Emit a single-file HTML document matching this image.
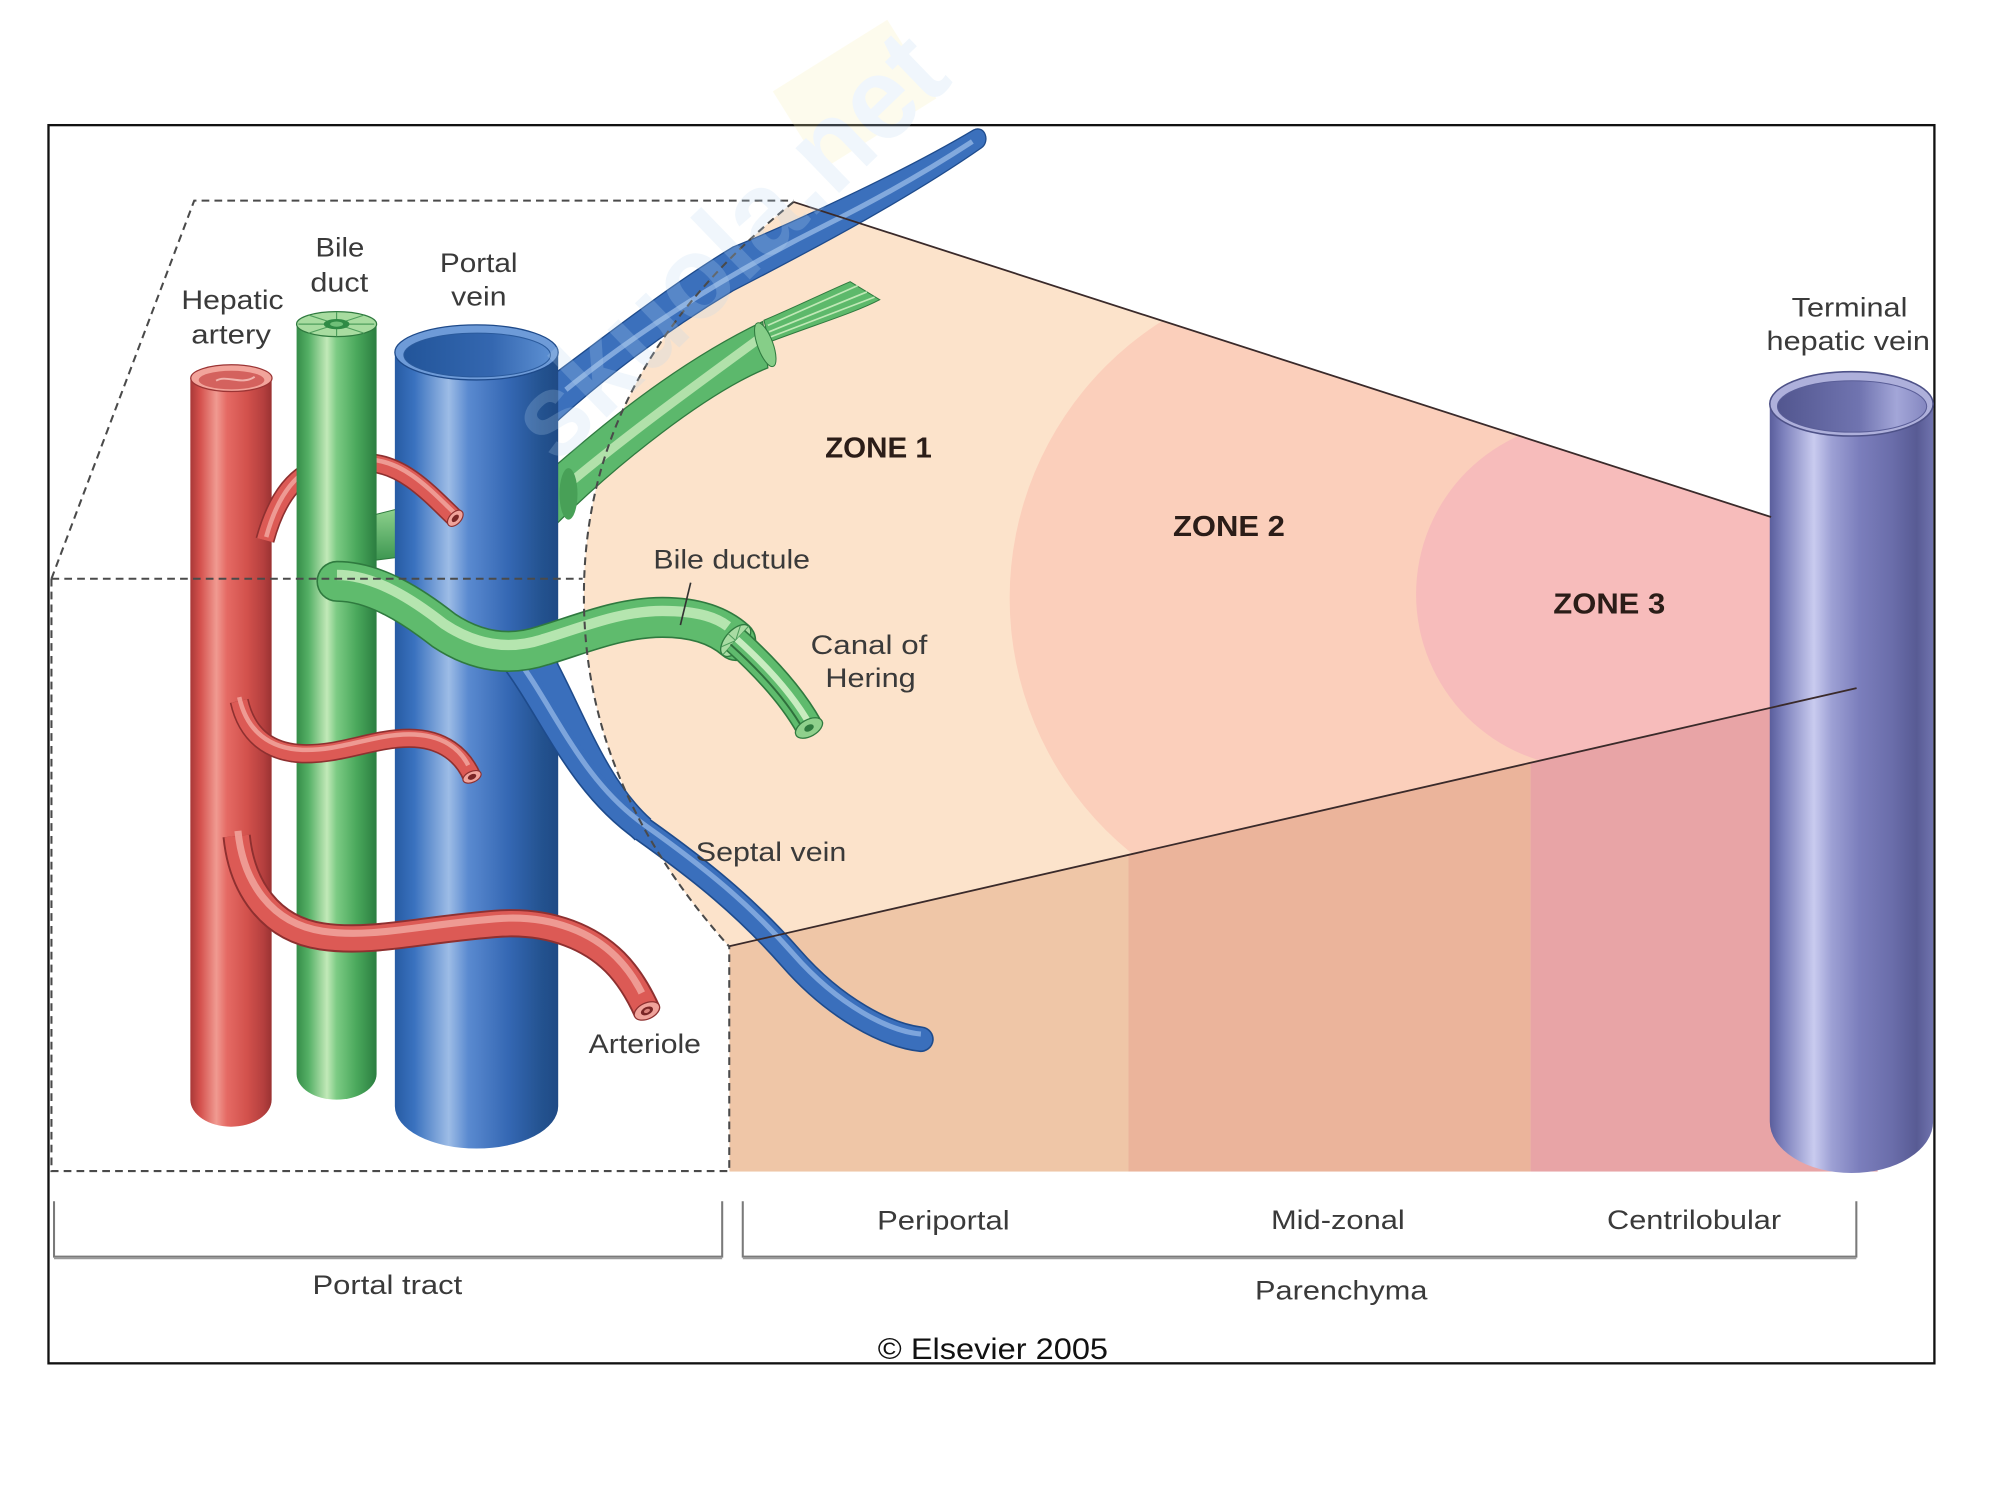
<!DOCTYPE html>
<html>
<head>
<meta charset="utf-8">
<style>
html,body{margin:0;padding:0;background:#fff;}
svg{display:block;}
text{font-family:"Liberation Sans",Arial,Helvetica,sans-serif;}
</style>
</head>
<body>
<svg xmlns="http://www.w3.org/2000/svg" width="2000" height="1500" viewBox="0 0 1555 1166.25">
<defs>
  <linearGradient id="gRed" x1="0" y1="0" x2="1" y2="0">
    <stop offset="0" stop-color="#a83838"/>
    <stop offset="0.12" stop-color="#d4504c"/>
    <stop offset="0.32" stop-color="#f09a91"/>
    <stop offset="0.45" stop-color="#e56a64"/>
    <stop offset="0.7" stop-color="#d2514c"/>
    <stop offset="0.9" stop-color="#b43f3e"/>
    <stop offset="1" stop-color="#9a3232"/>
  </linearGradient>
  <linearGradient id="gGreen" x1="0" y1="0" x2="1" y2="0">
    <stop offset="0" stop-color="#358c48"/>
    <stop offset="0.15" stop-color="#55b066"/>
    <stop offset="0.38" stop-color="#c2e9b8"/>
    <stop offset="0.5" stop-color="#7ccb84"/>
    <stop offset="0.75" stop-color="#4aa85c"/>
    <stop offset="1" stop-color="#2b7e40"/>
  </linearGradient>
  <linearGradient id="gBlue" x1="0" y1="0" x2="1" y2="0">
    <stop offset="0" stop-color="#275ba3"/>
    <stop offset="0.12" stop-color="#3a72bf"/>
    <stop offset="0.33" stop-color="#9dbce6"/>
    <stop offset="0.45" stop-color="#5a8ad0"/>
    <stop offset="0.7" stop-color="#3467b3"/>
    <stop offset="0.9" stop-color="#23528f"/>
    <stop offset="1" stop-color="#1f4a85"/>
  </linearGradient>
  <linearGradient id="gBlueIn" x1="0" y1="0" x2="1" y2="0">
    <stop offset="0" stop-color="#22559a"/>
    <stop offset="0.6" stop-color="#3467b0"/>
    <stop offset="1" stop-color="#5c8fd2"/>
  </linearGradient>
  <linearGradient id="gTV" x1="0" y1="0" x2="1" y2="0">
    <stop offset="0" stop-color="#5a5e9c"/>
    <stop offset="0.08" stop-color="#7b7fbb"/>
    <stop offset="0.27" stop-color="#c9cbef"/>
    <stop offset="0.38" stop-color="#9da0d4"/>
    <stop offset="0.55" stop-color="#7b7ebc"/>
    <stop offset="0.75" stop-color="#6a6daa"/>
    <stop offset="0.9" stop-color="#585b94"/>
    <stop offset="1" stop-color="#7073ae"/>
  </linearGradient>
  <linearGradient id="gTVIn" x1="0" y1="0" x2="1" y2="0">
    <stop offset="0" stop-color="#52568f"/>
    <stop offset="0.55" stop-color="#7074b0"/>
    <stop offset="0.8" stop-color="#a3a6d8"/>
    <stop offset="1" stop-color="#8487c0"/>
  </linearGradient>
  <linearGradient id="gStub" x1="0" y1="0" x2="0" y2="1">
    <stop offset="0" stop-color="#8fd28e"/>
    <stop offset="1" stop-color="#3c9650"/>
  </linearGradient>
  <clipPath id="cWedge">
    <path d="M617,157 L1400,409.5 L1400,545 L567,736 C490,650 453,560 454,460 C455,330 520,235 617,157 Z"/>
  </clipPath>
  <clipPath id="cLower">
    <polygon points="567,735.7 1460,531 1460,911 567,911"/>
  </clipPath>
</defs>

<!-- background & frame -->
<rect x="0" y="0" width="1555" height="1166.25" fill="#ffffff"/>
<rect x="37.7" y="97.3" width="1466.3" height="962.7" fill="none" stroke="#111" stroke-width="1.8"/>

<!-- wedge zones -->
<g clip-path="url(#cWedge)">
  <rect x="440" y="140" width="1000" height="620" fill="#fce3cb"/>
  <path d="M1040,210 A255,255 0 0 0 1040,720 L1460,720 L1460,210 Z" fill="#fbcfbb"/>
  <path d="M1236,327 A135,135 0 0 0 1236,597 L1460,597 L1460,327 Z" fill="#f7bcbb"/>
</g>

<!-- lower bands -->
<g clip-path="url(#cLower)">
  <rect x="567" y="520" width="310.4" height="391" fill="#efc6a7"/>
  <rect x="877.4" y="520" width="312.6" height="391" fill="#ebb49b"/>
  <rect x="1190" y="520" width="270" height="391" fill="#e8a4a6"/>
</g>

<!-- terminal hepatic vein -->
<path d="M1376,314 L1376,872 A63.5,40 0 0 0 1503,872 L1503,314 Z" fill="url(#gTV)"/>
<ellipse cx="1439.5" cy="314" rx="63.5" ry="25" fill="#aeb0db" stroke="#4e5288" stroke-width="1.2"/>
<ellipse cx="1440" cy="316" rx="58" ry="20" fill="url(#gTVIn)" stroke="#5a5e98" stroke-width="0.8"/>

<!-- ===== portal tract vessels ===== -->
<!-- blue upper branch (behind portal vein) -->
<path d="M425,295 C470,262 520,222 570,192 C610,176 700,135 757,101 C766,97 770,110 763,115 C710,152 640,190 570,226 C520,256 470,293 425,335 Z" fill="#3b70bc" stroke="#1e4b8c" stroke-width="1"/>
<path d="M440,303 C490,262 560,216 640,176 C690,151 730,127 756,110" fill="none" stroke="#8fb3e3" stroke-width="4" opacity="0.85"/>

<!-- green upper branch (behind portal vein) -->
<path d="M594,249 C620,238 640,228 661,219 L684,233 C665,243 635,252 598,266 Z" fill="#5db96b" stroke="#2f7a3f" stroke-width="0.8"/>
<path d="M597,253 L667,222 M598,258 L674,227 M599,262 L680,231" stroke="#c0e8b6" stroke-width="1.3" fill="none"/>
<path d="M425,368 C460,338 520,285 593,250 L597,286 C550,305 480,360 428,412 Z" fill="#5cb86c" stroke="#2f7a3f" stroke-width="1"/>
<path d="M440,378 C485,340 540,300 592,262" fill="none" stroke="#bfe8b5" stroke-width="7" opacity="0.85"/>
<ellipse cx="595" cy="268" rx="6" ry="18" transform="rotate(-20 595 268)" fill="#86ce88" stroke="#2f7a3f" stroke-width="0.8"/>

<!-- green stub between duct and vein -->
<path d="M288,401 L312,395 L312,433 L288,436 Z" fill="url(#gStub)" stroke="#2f7a3f" stroke-width="0.8"/>

<!-- portal vein body -->
<path d="M307,274 L307,860 A63.5,33 0 0 0 434,860 L434,274 Z" fill="url(#gBlue)"/>
<ellipse cx="442" cy="384" rx="7" ry="20" fill="#48a057"/>
<ellipse cx="370.5" cy="274" rx="63.5" ry="21.4" fill="#6e9bd8" stroke="#1e4a8a" stroke-width="1"/>
<ellipse cx="371" cy="276" rx="57" ry="17" fill="url(#gBlueIn)" stroke="#2a5a9c" stroke-width="0.8"/>

<!-- hepatic artery body -->
<path d="M148,294 L148,855 A31.6,21 0 0 0 211.2,855 L211.2,294 Z" fill="url(#gRed)"/>
<ellipse cx="179.9" cy="294" rx="31.6" ry="10.4" fill="#f2a49b" stroke="#9b3434" stroke-width="1"/>
<ellipse cx="180" cy="295.5" rx="25.5" ry="7.2" fill="#d4625e"/>
<path d="M168,296 C176,291 188,300 198,293" fill="none" stroke="#f1b3ad" stroke-width="1.5"/>

<!-- red branch 1 (behind bile duct) -->
<g fill="none">
  <path d="M206,420 C212,398 222,378 238,368 L288,360 C315,362 335,385 354,403" stroke="#8e3030" stroke-width="15"/>
  <path d="M206,420 C212,398 222,378 238,368 L288,360 C315,362 335,385 354,403" stroke="#dc5a55" stroke-width="12.5"/>
  <path d="M206,420 C212,398 222,378 238,368 L288,360 C315,362 335,385 354,403" stroke="#f3aaa2" stroke-width="3.5" transform="translate(1,-2.5)" opacity="0.8"/>
</g>
<ellipse cx="354" cy="403" rx="7.5" ry="4.5" transform="rotate(-47 354 403)" fill="#f0a39b" stroke="#8e3030" stroke-width="0.9"/>
<ellipse cx="354" cy="403" rx="3.5" ry="2" transform="rotate(-47 354 403)" fill="#7a2626"/>

<!-- bile duct body -->
<path d="M230.6,252 L230.6,835 A31.1,20 0 0 0 292.8,835 L292.8,252 Z" fill="url(#gGreen)"/>
<ellipse cx="261.7" cy="252" rx="31.1" ry="9.7" fill="#a8dca0" stroke="#2f7a3f" stroke-width="1"/>
<g stroke="#4e9e5c" stroke-width="0.9">
  <line x1="261.7" y1="252" x2="232" y2="252"/>
  <line x1="261.7" y1="252" x2="291" y2="252"/>
  <line x1="261.7" y1="252" x2="261.7" y2="242.5"/>
  <line x1="261.7" y1="252" x2="261.7" y2="261.5"/>
  <line x1="261.7" y1="252" x2="240" y2="245"/>
  <line x1="261.7" y1="252" x2="283" y2="245"/>
  <line x1="261.7" y1="252" x2="240" y2="259"/>
  <line x1="261.7" y1="252" x2="283" y2="259"/>
</g>
<ellipse cx="261.7" cy="252" rx="10" ry="4" fill="#2f8a45"/>
<ellipse cx="261.7" cy="252" rx="5" ry="2" fill="#6fbf78"/>

<!-- septal vein -->
<g fill="none">
  <path d="M398,512 C430,555 450,610 500,645 C545,677 580,705 615,745 C650,785 690,805 716,808" stroke="#1e4b8c" stroke-width="20" stroke-linecap="round"/>
  <path d="M388,506 C420,555 445,608 494,653 L506,637 C470,605 452,548 426,502 Z" fill="#3a6fbc"/>
  <path d="M388,506 C420,555 445,608 494,653 M506,637 C470,605 452,548 426,502" stroke="#1e4b8c" stroke-width="1.2"/>
  <path d="M398,512 C430,555 450,610 500,645 C545,677 580,705 615,745 C650,785 690,805 716,808" stroke="#3a6fbc" stroke-width="17.5" stroke-linecap="round"/>
  <path d="M398,512 C430,555 450,610 500,645 C545,677 580,705 615,745 C650,785 690,805 714,807" stroke="#8fb3e3" stroke-width="4" transform="translate(2,-3)" opacity="0.8"/>
</g>

<!-- bile ductule -->
<g fill="none">
  <path d="M262,452 C292,452 322,472 345,490 C372,508 398,510 422,502 C452,493 482,480 515,480 C545,480 562,489 572,498" stroke="#2f7a3f" stroke-width="32" stroke-linecap="round"/>
  <path d="M262,452 C292,452 322,472 345,490 C372,508 398,510 422,502 C452,493 482,480 515,480 C545,480 562,489 572,498" stroke="#5fbb6d" stroke-width="29.5" stroke-linecap="round"/>
  <path d="M262,452 C292,452 322,472 345,490 C372,508 398,510 422,502 C452,493 482,480 515,480 C545,480 558,486 566,492" stroke="#c4ecbb" stroke-width="8" transform="translate(0,-5)" opacity="0.85"/>
</g>
<ellipse cx="572" cy="498" rx="15" ry="8" transform="rotate(-48 572 498)" fill="#a9dca3" stroke="#2f7a3f" stroke-width="1"/>
<g stroke="#4e9e5c" stroke-width="0.8" transform="rotate(-48 572 498)">
  <line x1="557" y1="498" x2="587" y2="498"/>
  <line x1="572" y1="490" x2="572" y2="506"/>
  <line x1="561" y1="493" x2="583" y2="503"/>
  <line x1="561" y1="503" x2="583" y2="493"/>
</g>
<!-- canal of Hering -->
<g fill="none">
  <path d="M572,498 C592,516 615,540 629,565" stroke="#2f7a3f" stroke-width="22"/>
  <path d="M572,498 C592,516 615,540 629,565" stroke="#5fbb6d" stroke-width="19.5"/>
  <path d="M572,498 C592,516 615,540 629,565" stroke="#c8ecc0" stroke-width="5" transform="translate(1,-1)"/>
  <path d="M572,498 C592,516 615,540 629,565" stroke="#2f6f3c" stroke-width="1.5" transform="translate(-4,3)"/>
</g>
<ellipse cx="629" cy="566" rx="11.5" ry="6.5" transform="rotate(-29 629 566)" fill="#8fd08c" stroke="#2f7a3f" stroke-width="1"/>
<ellipse cx="629" cy="566" rx="4" ry="2.5" transform="rotate(-29 629 566)" fill="#2f7a3f"/>

<!-- red branch 2 -->
<g fill="none">
  <path d="M186,545 C192,572 210,585 235,586 C265,587 290,574 318,574 C345,574 360,588 367,604" stroke="#8e3030" stroke-width="15"/>
  <path d="M186,545 C192,572 210,585 235,586 C265,587 290,574 318,574 C345,574 360,588 367,604" stroke="#dc5a55" stroke-width="12.5"/>
  <path d="M186,545 C192,572 210,585 235,586 C265,587 290,574 318,574 C345,574 358,586 364,598" stroke="#f3aaa2" stroke-width="3.5" transform="translate(0,-3)" opacity="0.8"/>
</g>
<ellipse cx="367" cy="604" rx="7.5" ry="4.2" transform="rotate(-24 367 604)" fill="#f0a39b" stroke="#8e3030" stroke-width="0.9"/>
<ellipse cx="367" cy="604" rx="3.5" ry="2" transform="rotate(-24 367 604)" fill="#7a2626"/>

<!-- arteriole -->
<g fill="none">
  <path d="M184,650 C188,690 210,722 250,728 C290,734 330,722 390,718 C430,716 460,730 478,748 C490,760 498,775 503,786" stroke="#8e3030" stroke-width="22"/>
  <path d="M184,650 C188,690 210,722 250,728 C290,734 330,722 390,718 C430,716 460,730 478,748 C490,760 498,775 503,786" stroke="#dc5a55" stroke-width="19"/>
  <path d="M184,650 C188,690 210,722 250,728 C290,734 330,722 390,718 C430,716 460,730 478,748 C488,758 494,768 498,776" stroke="#f3aaa2" stroke-width="5.5" transform="translate(1,-4)" opacity="0.8"/>
</g>
<ellipse cx="503" cy="786" rx="10.5" ry="6.2" transform="rotate(-25 503 786)" fill="#f0a39b" stroke="#8e3030" stroke-width="1"/>
<ellipse cx="503" cy="786" rx="5" ry="3" transform="rotate(-25 503 786)" fill="#7a2626"/>
<ellipse cx="503" cy="786" rx="2.5" ry="1.4" transform="rotate(-25 503 786)" fill="#d98079"/>

<!-- dashed outline -->
<g fill="none" stroke="#4a4a4a" stroke-width="1.6" stroke-dasharray="6 4">
  <path d="M40,450 L151,156 L617,156"/>
  <path d="M40,450 L453,450"/>
  <path d="M40,450 L40,910.5 L567,910.5 L567,736"/>
  <path d="M617,157 C520,235 455,330 454,460 C453,560 490,650 567,736"/>
</g>

<!-- solid wedge lines -->
<g stroke="#3a2a2a" stroke-width="1.4" fill="none">
  <line x1="617" y1="157" x2="1377" y2="402"/>
  <line x1="567" y1="735.7" x2="1443.5" y2="535"/>
</g>

<!-- bile ductule leader -->
<line x1="537" y1="453" x2="529" y2="486" stroke="#333" stroke-width="1.3"/>

<!-- labels -->
<g fill="#3a3a3a" font-size="21">
  <text x="141" y="240.4" textLength="79.5" lengthAdjust="spacingAndGlyphs">Hepatic</text>
  <text x="148.7" y="267" textLength="62" lengthAdjust="spacingAndGlyphs">artery</text>
  <text x="245.3" y="199.4" textLength="38" lengthAdjust="spacingAndGlyphs">Bile</text>
  <text x="241.3" y="226.5" textLength="45" lengthAdjust="spacingAndGlyphs">duct</text>
  <text x="342" y="211.6" textLength="60.4" lengthAdjust="spacingAndGlyphs">Portal</text>
  <text x="350.8" y="237.6" textLength="43" lengthAdjust="spacingAndGlyphs">vein</text>
  <text x="508" y="441.9" textLength="121.8" lengthAdjust="spacingAndGlyphs">Bile ductule</text>
  <text x="630.3" y="508.3" textLength="90.7" lengthAdjust="spacingAndGlyphs">Canal of</text>
  <text x="641.7" y="534" textLength="70.3" lengthAdjust="spacingAndGlyphs">Hering</text>
  <text x="541" y="669.6" textLength="117" lengthAdjust="spacingAndGlyphs">Septal vein</text>
  <text x="457.7" y="818.7" textLength="87.3" lengthAdjust="spacingAndGlyphs">Arteriole</text>
  <text x="1393" y="246.2" textLength="90" lengthAdjust="spacingAndGlyphs">Terminal</text>
  <text x="1373.5" y="272.2" textLength="127" lengthAdjust="spacingAndGlyphs">hepatic vein</text>
  <text x="243" y="1006" textLength="116.4" lengthAdjust="spacingAndGlyphs">Portal tract</text>
  <text x="682" y="956" textLength="103" lengthAdjust="spacingAndGlyphs">Periportal</text>
  <text x="988.2" y="955.5" textLength="104" lengthAdjust="spacingAndGlyphs">Mid-zonal</text>
  <text x="1249.5" y="955.5" textLength="135.3" lengthAdjust="spacingAndGlyphs">Centrilobular</text>
  <text x="975.8" y="1010.4" textLength="134" lengthAdjust="spacingAndGlyphs">Parenchyma</text>
</g>
<text x="682.5" y="1056.6" font-size="23" fill="#111" textLength="179" lengthAdjust="spacingAndGlyphs">© Elsevier 2005</text>

<g fill="#2b1d18" font-size="22" font-weight="bold">
  <text x="641.5" y="355.6" textLength="83" lengthAdjust="spacingAndGlyphs">ZONE 1</text>
  <text x="912" y="416.8" textLength="87" lengthAdjust="spacingAndGlyphs">ZONE 2</text>
  <text x="1207.7" y="477" textLength="87" lengthAdjust="spacingAndGlyphs">ZONE 3</text>
</g>

<!-- brackets -->
<g fill="none" stroke="#7a7a7a" stroke-width="1.6">
  <path d="M42,934 L42,977 L561.5,977 L561.5,934"/>
  <path d="M577.5,934 L577.5,977 L1443.3,977 L1443.3,934"/>
</g>
<g stroke="#9a9a9a" stroke-width="1.2" fill="none">
  <line x1="42" y1="978.5" x2="561.5" y2="978.5"/>
  <line x1="577.5" y1="978.5" x2="1443.3" y2="978.5"/>
</g>

<!-- faint watermark -->
<g opacity="0.22">
  <rect x="612" y="38" width="105" height="72" fill="#f8efb0" transform="rotate(-32 664 74)"/>
  <text x="565" y="222" text-anchor="middle" font-size="92" font-weight="bold" fill="#bcd9f2" textLength="430" lengthAdjust="spacingAndGlyphs" transform="rotate(-44 565 190)">skuola.net</text>
</g>
</svg>
</body>
</html>
